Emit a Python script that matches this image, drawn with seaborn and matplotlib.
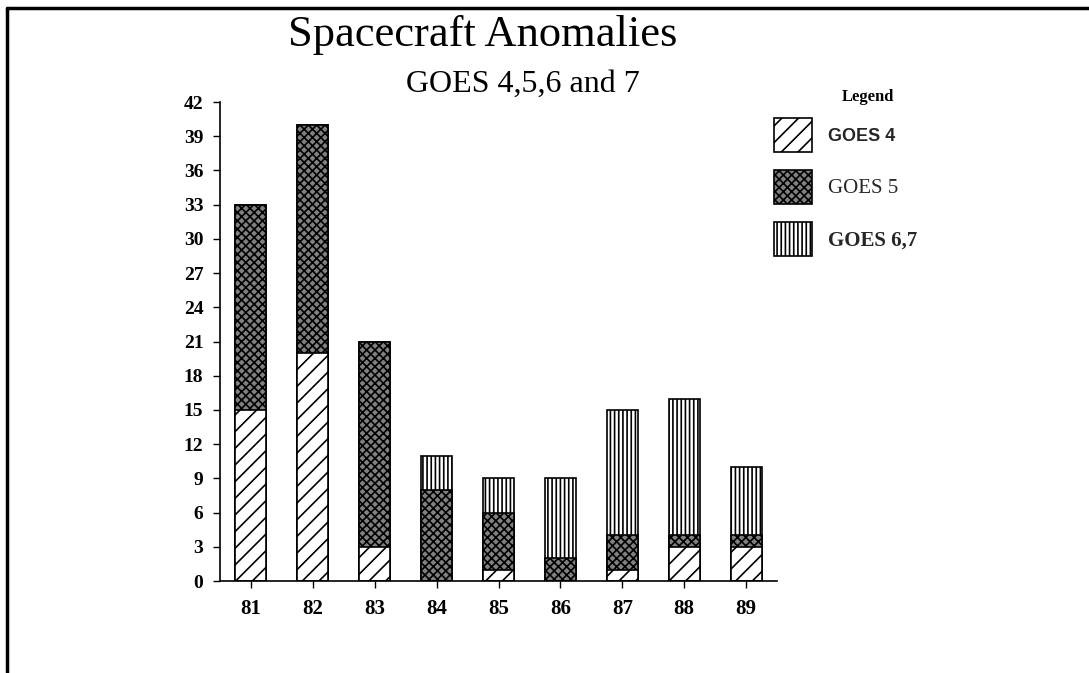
import matplotlib
matplotlib.use("Agg")
import matplotlib.pyplot as plt
import seaborn as sns
import pandas as pd
from matplotlib.patches import Patch
from matplotlib.lines import Line2D

years = ["81", "82", "83", "84", "85", "86", "87", "88", "89"]
goes4 = [15, 20, 3, 0, 1, 0, 1, 3, 3]
goes5 = [18, 20, 18, 8, 5, 2, 3, 1, 1]
goes67 = [0, 0, 0, 3, 3, 7, 11, 12, 6]
yticks = list(range(0, 43, 3))
series_labels = ["GOES 4", "GOES 5", "GOES 6,7"]

sns.set_theme(style="ticks")
plt.rcParams['font.family'] = ['Liberation Serif', 'DejaVu Serif']
plt.rcParams['hatch.linewidth'] = 1.2

df = pd.DataFrame({"year": years, "g4": goes4, "g5": goes5, "g67": goes67})
df["c2"] = df["g4"] + df["g5"]
df["c3"] = df["c2"] + df["g67"]

fig = plt.figure(figsize=(10.89, 6.73), dpi=100)
ax = fig.add_axes([220/1089, 1-581/673, (777-220)/1089, (581-102)/673])

styles = [("c3", "white", "||||"), ("c2", "#808080", "xxxx"), ("g4", "white", "//")]
for col, fc, h in styles:
    sns.barplot(data=df, x="year", y=col, ax=ax, color=fc, width=0.5,
                saturation=1, errorbar=None)
    cont = ax.containers[-1]
    for p in cont.patches:
        p.set_facecolor(fc)
        p.set_edgecolor("black")
        p.set_linewidth(1.2)
        p.set_hatch(h)

ax.set_xlim(-0.5, 8.5)
ax.set_ylim(0, 42)
ax.set_yticks(yticks)
ax.set_yticklabels([str(v) for v in yticks])
ax.set_xlabel("")
ax.set_ylabel("")
for s in ["top", "right"]:
    ax.spines[s].set_visible(False)
for s in ["left", "bottom"]:
    ax.spines[s].set_color("black")
    ax.spines[s].set_linewidth(1.2)
ax.tick_params(axis="y", length=5, width=1, color="black", pad=7, labelsize=14)
ax.tick_params(axis="x", length=5, width=1, color="black", pad=8, labelsize=15)
for lbl in ax.get_yticklabels() + ax.get_xticklabels():
    lbl.set_fontweight("bold")
    lbl.set_color("black")

fig.text(483/1089, 1-46/673, "Spacecraft Anomalies", ha="center", va="baseline",
         fontsize=32, family="Liberation Serif", color="black")
fig.text(523/1089, 1-92/673, "GOES 4,5,6 and 7", ha="center", va="baseline",
         fontsize=23, family="Liberation Serif", color="black")

handles = [Patch(facecolor=fc, edgecolor="black", hatch=h, linewidth=1.2)
           for _, fc, h in styles[::-1]]
leg = fig.legend(handles, series_labels, loc="upper left",
                 bbox_to_anchor=(774/1089, 1-118/673), frameon=False,
                 fontsize=14, handlelength=1.96, handleheight=2.32,
                 labelspacing=0.93, handletextpad=0.8, borderpad=0, borderaxespad=0)
texts = leg.get_texts()
texts[0].set_fontfamily("Liberation Sans")
texts[0].set_fontweight("bold")
texts[0].set_fontsize(13)
texts[1].set_fontfamily("Liberation Serif")
texts[1].set_fontsize(15)
texts[2].set_fontfamily("Liberation Serif")
texts[2].set_fontweight("bold")
texts[2].set_fontsize(15)
fig.text(868/1089, 1-101/673, "Legend", ha="center", va="baseline",
         fontsize=12, fontweight="bold", family="Liberation Serif", color="black")

fig.add_artist(Line2D([7/1089, 7/1089], [0, 1-8/673], transform=fig.transFigure,
                      color="black", lw=2.5))
fig.add_artist(Line2D([7/1089, 1], [1-8/673, 1-8/673], transform=fig.transFigure,
                      color="black", lw=2.5))

fig.savefig("out.png", dpi=100)
